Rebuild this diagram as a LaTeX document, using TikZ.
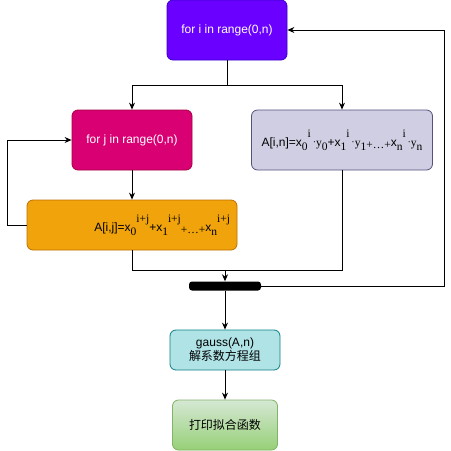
\documentclass[tikz,border=0pt]{standalone}
\usepackage{fontspec}
\setmainfont{Liberation Sans}
\newfontfamily\serifrm{Liberation Serif}
\newfontfamily\cjk{Noto Sans CJK SC}
\usetikzlibrary{arrows.meta}
\definecolor{violetfill}{HTML}{6A00FF}
\definecolor{violetline}{HTML}{3700CC}
\definecolor{magentafill}{HTML}{D80073}
\definecolor{magentaline}{HTML}{A50040}
\definecolor{lavender}{HTML}{D0CEE2}
\definecolor{lavenderline}{HTML}{56517E}
\definecolor{amber}{HTML}{F0A30A}
\definecolor{amberline}{HTML}{BD7000}
\definecolor{tealfill}{HTML}{B0E3E6}
\definecolor{tealline}{HTML}{0E8088}
\definecolor{greentop}{HTML}{D5E8D4}
\definecolor{greenbot}{HTML}{97D077}
\definecolor{greenline}{HTML}{82B366}
\newcommand\subsup[2]{\raisebox{-4pt}{\serifrm\fontsize{11.5}{12}\selectfont #1}\raisebox{9pt}{\serifrm\fontsize{11.5}{12}\selectfont #2}}
\newcommand\smallrm[1]{\raisebox{-2pt}{\serifrm\fontsize{11.5}{12}\selectfont #1}}
\newcommand\dotsub[1]{{\serifrm\fontsize{11.5}{12}\selectfont\,\raisebox{0.5pt}{\fontsize{10}{10}\selectfont·}y\raisebox{-4pt}{#1}}}
\tikzset{
	box/.style 2 args={rectangle,rounded corners=6pt,draw=#2,fill=#1,line width=0.8pt,font=\fontsize{12}{14}\selectfont},
	arr/.style={line width=1pt,-{Stealth[length=7pt,width=6pt]}},
	line/.style={line width=1pt}
}
\begin{document}
\begin{tikzpicture}[x=1pt,y=-1pt]
	\useasboundingbox[fill=white] (0,0) rectangle (451,451);
	\node [box={violetfill}{violetline},minimum width=120pt,minimum height=60pt,text=white] (fori) at (227,30) {for i in range(0,n)};
	\node [box={magentafill}{magentaline},minimum width=120pt,minimum height=60pt,text=white] (forj) at (132,140) {for j in range(0,n)};
	\node [box={lavender}{lavenderline},minimum width=181pt,minimum height=60pt,inner xsep=2pt] (ain) at (342,140) {A[i,n]=x\subsup{0}{i}\dotsub{0}+x\subsup{1}{i}\dotsub{1}\smallrm{+…+}x\subsup{n}{i}\dotsub{n}};
	\node [box={amber}{amberline},minimum width=210pt,minimum height=50pt,text width=196pt,inner xsep=7pt,align=right] (aij) at (132,225) {A[i,j]=x\subsup{0}{i+j}+x\subsup{1}{i+j}\smallrm{+…+}x\subsup{n}{i+j}};
	\node [rectangle,rounded corners=3pt,fill=black,minimum width=72pt,minimum height=9pt,inner sep=0pt] (bar) at (225,286) {};
	\node [box={tealfill}{tealline},minimum width=110pt,minimum height=40pt,align=center] (gauss) at (225,350) {gauss(A,n)\\{\cjk 解系数方程组}};
	\node [box={greenbot}{greenline},top color=greentop,bottom color=greenbot,minimum width=105pt,minimum height=50pt] (print) at (225,425) {\cjk 打印拟合函数};

	\coordinate (fork) at (227,85);
	\coordinate (join) at (225,270);
	\draw [line] (fori) -- (fork);
	\draw [arr] (fork) -| (forj.north);
	\draw [arr] (fork) -| (ain.north);
	\draw [arr] (forj) -- (aij);
	\draw [arr] (aij.west) -- ++(-19,0) |- (forj.west);
	\draw [line] (aij.south) |- (join);
	\draw [line] (ain.south) |- (join);
	\draw [arr] (join) -- (bar.north);
	\draw [arr] (bar.east) -- ++(183,0) |- (fori.east);
	\draw [arr] (bar) -- (gauss);
	\draw [arr] (gauss) -- (print);
\end{tikzpicture}
\end{document}
